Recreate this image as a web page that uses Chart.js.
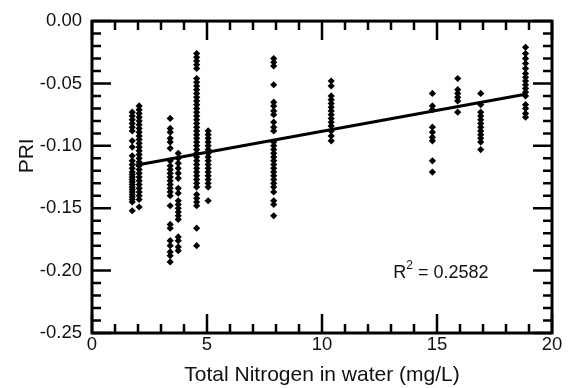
<!DOCTYPE html>
<html lang="en">
<head>
    <meta charset="UTF-8">
    <title>PRI vs Total Nitrogen</title>
    <script src="https://cdn.jsdelivr.net/npm/chart.js"></script>
    <style>
        body { margin: 0; background: #fff; }
        #wrap { width: 569px; height: 388px; }
    </style>
</head>
<body>
    <div id="wrap"><canvas id="priChart" width="569" height="388"></canvas></div>

    <script>
        // nitrogen levels (mg/L) sampled, one column of PRI readings per level
        const tnLevels = [1.75, 2.05, 3.4, 3.75, 4.55, 5.05, 7.9, 10.4, 14.8, 15.9, 16.9, 18.85];

        const pri175 = [-0.073, -0.076, -0.079, -0.082, -0.085, -0.088, -0.096, -0.101, -0.108, -0.112, -0.115, -0.118, -0.121, -0.123, -0.125, -0.127, -0.129, -0.131, -0.133, -0.135, -0.137, -0.139, -0.141, -0.143, -0.145, -0.152];
        const pri205 = [-0.068, -0.071, -0.074, -0.077, -0.080, -0.083, -0.086, -0.089, -0.092, -0.095, -0.098, -0.101, -0.104, -0.107, -0.110, -0.113, -0.116, -0.119, -0.122, -0.125, -0.128, -0.131, -0.134, -0.137, -0.140, -0.143, -0.149];
        const pri340 = [-0.078, -0.086, -0.089, -0.094, -0.097, -0.102, -0.112, -0.116, -0.119, -0.122, -0.125, -0.128, -0.131, -0.134, -0.137, -0.140, -0.148, -0.163, -0.166, -0.176, -0.180, -0.185, -0.188, -0.193];
        const pri375 = [-0.106, -0.110, -0.114, -0.118, -0.122, -0.126, -0.134, -0.138, -0.144, -0.147, -0.150, -0.153, -0.156, -0.159, -0.173, -0.176, -0.181, -0.184];
        const pri455 = [-0.026, -0.029, -0.032, -0.035, -0.038, -0.046, -0.049, -0.052, -0.055, -0.058, -0.061, -0.064, -0.067, -0.070, -0.073, -0.076, -0.079, -0.082, -0.085, -0.088, -0.091, -0.094, -0.097, -0.100, -0.103, -0.106, -0.109, -0.112, -0.115, -0.118, -0.121, -0.124, -0.127, -0.130, -0.133, -0.139, -0.142, -0.145, -0.148, -0.166, -0.180];
        const pri505 = [-0.088, -0.091, -0.094, -0.097, -0.100, -0.103, -0.106, -0.109, -0.112, -0.115, -0.118, -0.121, -0.124, -0.127, -0.130, -0.133, -0.144];
        const pri790 = [-0.030, -0.033, -0.036, -0.051, -0.065, -0.068, -0.072, -0.075, -0.081, -0.085, -0.088, -0.097, -0.100, -0.103, -0.106, -0.109, -0.112, -0.115, -0.118, -0.121, -0.124, -0.127, -0.130, -0.133, -0.137, -0.144, -0.147, -0.156];
        const pri1040 = [-0.048, -0.052, -0.060, -0.063, -0.066, -0.069, -0.072, -0.075, -0.078, -0.081, -0.084, -0.088, -0.092, -0.096];
        const pri1480 = [-0.058, -0.068, -0.071, -0.085, -0.089, -0.093, -0.096, -0.112, -0.121];
        const pri1590 = [-0.046, -0.055, -0.058, -0.061, -0.064, -0.073];
        const pri1690 = [-0.058, -0.067, -0.073, -0.076, -0.079, -0.082, -0.085, -0.088, -0.091, -0.094, -0.097, -0.103];
        const pri1885 = [-0.021, -0.026, -0.030, -0.034, -0.038, -0.042, -0.045, -0.048, -0.051, -0.054, -0.057, -0.060, -0.067, -0.070, -0.074, -0.077];

        const priColumns = [pri175, pri205, pri340, pri375, pri455, pri505, pri790, pri1040, pri1480, pri1590, pri1690, pri1885];

        // least-squares fit, drawn between its end points
        const fitX = [1.9, 18.9];
        const fitY = [-0.1155, -0.0584];
        const rSquared = '0.2582';

        const xTicks = [0, 5, 10, 15, 20];
        const yTicks = [0, -0.05, -0.10, -0.15, -0.20, -0.25];

        const points = [];
        tnLevels.forEach((tn, i) => {
            priColumns[i].forEach(v => points.push({ x: tn, y: v }));
        });

        const FONT = "Arial, 'Liberation Sans', sans-serif";
        Chart.defaults.font.family = FONT;
        Chart.defaults.color = '#111';

        // boxed frame with inward ticks on all four sides, the R² note and the y title
        const frameTicks = {
            id: 'frameTicks',
            afterDraw(chart) {
                const { ctx, chartArea: a, scales: { x, y } } = chart;
                ctx.save();
                ctx.strokeStyle = '#000';
                ctx.lineWidth = 2.5;
                for (let v = 0; v <= 20; v++) {
                    const px = x.getPixelForValue(v);
                    const len = v % 5 === 0 ? 19 : 9;
                    ctx.beginPath();
                    ctx.moveTo(px, a.bottom); ctx.lineTo(px, a.bottom - len);
                    ctx.moveTo(px, a.top); ctx.lineTo(px, a.top + len);
                    ctx.stroke();
                }
                for (let i = 0; i <= 25; i++) {
                    const py = y.getPixelForValue(-i / 100);
                    const len = i % 5 === 0 ? 19 : 9;
                    ctx.beginPath();
                    ctx.moveTo(a.left, py); ctx.lineTo(a.left + len, py);
                    ctx.moveTo(a.right, py); ctx.lineTo(a.right - len, py);
                    ctx.stroke();
                }
                ctx.lineWidth = 3;
                ctx.strokeRect(a.left, a.top, a.right - a.left, a.bottom - a.top);

                ctx.fillStyle = '#111';
                ctx.textBaseline = 'middle';
                ctx.textAlign = 'left';

                // R² label
                const tx = x.getPixelForValue(13.1);
                const ty = y.getPixelForValue(-0.202);
                ctx.font = '18px ' + FONT;
                ctx.fillText('R', tx, ty);
                const rw = ctx.measureText('R').width;
                ctx.font = '12px ' + FONT;
                ctx.fillText('2', tx + rw, ty - 7);
                const sw = ctx.measureText('2').width;
                ctx.font = '18px ' + FONT;
                ctx.fillText(' = ' + rSquared, tx + rw + sw, ty);

                // y axis title
                ctx.translate(27, y.getPixelForValue(-0.108));
                ctx.rotate(-Math.PI / 2);
                ctx.textAlign = 'center';
                ctx.font = '21px ' + FONT;
                ctx.fillText('PRI', 0, 0);
                ctx.restore();
            }
        };

        new Chart(document.getElementById('priChart'), {
            type: 'scatter',
            data: {
                datasets: [{
                    label: 'PRI',
                    data: points,
                    pointStyle: 'rectRot',
                    pointRadius: 3.6,
                    backgroundColor: '#000',
                    borderColor: '#000',
                    borderWidth: 0
                }, {
                    type: 'line',
                    label: 'fit',
                    data: fitX.map((v, i) => ({ x: v, y: fitY[i] })),
                    borderColor: '#000',
                    borderWidth: 3,
                    pointRadius: 0,
                    fill: false
                }]
            },
            options: {
                responsive: false,
                animation: false,
                layout: { padding: { top: 14, right: 17, left: 0, bottom: 0 } },
                plugins: { legend: { display: false }, tooltip: { enabled: false } },
                scales: {
                    x: {
                        type: 'linear',
                        min: 0, max: 20,
                        afterBuildTicks: s => { s.ticks = xTicks.map(v => ({ value: v })); },
                        afterFit: s => { s.height = 55; },
                        grid: { display: false, drawTicks: false },
                        border: { display: false },
                        ticks: { font: { size: 18.5 }, padding: 1, maxRotation: 0, autoSkip: false },
                        title: { display: true, text: 'Total Nitrogen in water (mg/L)', font: { size: 21 }, padding: { top: 0, bottom: 0 } }
                    },
                    y: {
                        min: -0.25, max: 0,
                        afterBuildTicks: s => { s.ticks = yTicks.map(v => ({ value: v })); },
                        afterFit: s => { s.width = 92; },
                        grid: { display: false, drawTicks: false },
                        border: { display: false },
                        ticks: { font: { size: 18.5 }, padding: 10, callback: v => v.toFixed(2) },
                        title: { display: false }
                    }
                }
            },
            plugins: [frameTicks]
        });
    </script>
</body>
</html>
